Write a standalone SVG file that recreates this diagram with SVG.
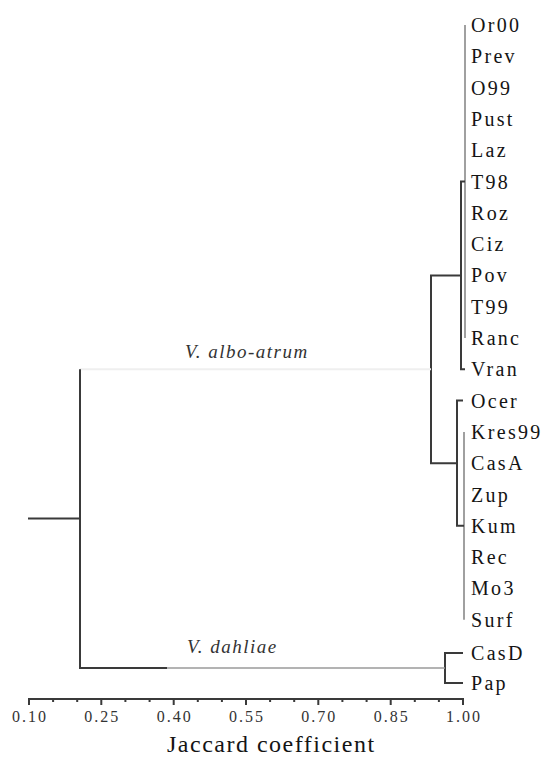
<svg xmlns="http://www.w3.org/2000/svg" width="545" height="757" viewBox="0 0 545 757">
<style>
text{font-family:'Liberation Serif','Times New Roman',serif}
.leaf{font-size:20px;letter-spacing:2.3px;fill:#141414}
.tick{font-size:16px;letter-spacing:2px;fill:#333;text-anchor:middle}
.title{font-size:24px;letter-spacing:1.5px;fill:#141414}
.sp{font-style:italic;font-size:19px;letter-spacing:1.5px;fill:#333}
.dk{fill:none;stroke:#3a3a3a;stroke-width:2}
.gr{fill:none;stroke:#a0a0a0;stroke-width:2}
.faint{fill:none;stroke:#efefef;stroke-width:2}
.lt{fill:none;stroke:#9a9a9a;stroke-width:1.5}
</style>
<rect width="545" height="757" fill="#fff"/>
<g id="connectors">
<line class="gr" x1="465" y1="25" x2="465" y2="338"/>
<path class="dk" d="M465,181.5 H461 V369.3 H465"/>
<line class="gr" x1="464" y1="431.9" x2="464" y2="619.7"/>
<path class="dk" d="M463,400.6 H457 V525.8 H464"/>
<path class="dk" d="M461,275.4 H431 V463.2 H457"/>
<line class="faint" x1="80" y1="369.3" x2="431" y2="369.3"/>
<path class="dk" d="M463,653 H445 V683 H463"/>
<line class="lt" x1="167" y1="668" x2="445" y2="668"/>
<path class="dk" d="M80,369.3 V668 H167"/>
<line class="dk" x1="28" y1="518.6" x2="80" y2="518.6"/>
</g>
<g id="leaves">
<g id="n-Or00"><text class="leaf" x="471" y="32">Or00</text></g>
<g id="n-Prev"><text class="leaf" x="471" y="63.3">Prev</text></g>
<g id="n-O99"><text class="leaf" x="471" y="94.6">O99</text></g>
<g id="n-Pust"><text class="leaf" x="471" y="125.9">Pust</text></g>
<g id="n-Laz"><text class="leaf" x="471" y="157.2">Laz</text></g>
<g id="n-T98"><text class="leaf" x="471" y="188.5">T98</text></g>
<g id="n-Roz"><text class="leaf" x="471" y="219.8">Roz</text></g>
<g id="n-Ciz"><text class="leaf" x="471" y="251.1">Ciz</text></g>
<g id="n-Pov"><text class="leaf" x="471" y="282.4">Pov</text></g>
<g id="n-T99"><text class="leaf" x="471" y="313.7">T99</text></g>
<g id="n-Ranc"><text class="leaf" x="471" y="345">Ranc</text></g>
<g id="n-Vran"><text class="leaf" x="471" y="376.3">Vran</text></g>
<g id="n-Ocer"><text class="leaf" x="471" y="407.6">Ocer</text></g>
<g id="n-Kres99"><text class="leaf" x="471" y="438.9">Kres99</text></g>
<g id="n-CasA"><text class="leaf" x="471" y="470.2">CasA</text></g>
<g id="n-Zup"><text class="leaf" x="471" y="501.5">Zup</text></g>
<g id="n-Kum"><text class="leaf" x="471" y="532.8">Kum</text></g>
<g id="n-Rec"><text class="leaf" x="471" y="564.1">Rec</text></g>
<g id="n-Mo3"><text class="leaf" x="471" y="595.4">Mo3</text></g>
<g id="n-Surf"><text class="leaf" x="471" y="626.7">Surf</text></g>
<g id="n-CasD"><text class="leaf" x="471" y="660">CasD</text></g>
<g id="n-Pap"><text class="leaf" x="471" y="690">Pap</text></g>
</g>
<g id="clade-labels">
<g id="n-albo"><text class="sp" x="185" y="358">V. albo-atrum</text></g>
<g id="n-dahliae"><text class="sp" x="187" y="653">V. dahliae</text></g>
</g>
<g id="axis">
<line class="dk" x1="28" y1="699" x2="464" y2="699"/>
<path class="dk" d="M29,699V705 M101.3,699V705 M173.7,699V705 M246,699V705 M318.3,699V705 M390.7,699V705 M463,699V705"/>
<path class="dk" stroke-width="1.5" d="M53.1,699V702 M77.2,699V702 M125.4,699V702 M149.6,699V702 M197.8,699V702 M221.9,699V702 M270.1,699V702 M294.2,699V702 M342.4,699V702 M366.6,699V702 M414.8,699V702 M438.9,699V702"/>
<text class="tick" x="30" y="722">0.10</text>
<text class="tick" x="102.3" y="722">0.25</text>
<text class="tick" x="174.7" y="722">0.40</text>
<text class="tick" x="247" y="722">0.55</text>
<text class="tick" x="319.3" y="722">0.70</text>
<text class="tick" x="391.7" y="722">0.85</text>
<text class="tick" x="464" y="722">1.00</text>
<text class="title" x="167" y="752">Jaccard coefficient</text>
</g>
</svg>
